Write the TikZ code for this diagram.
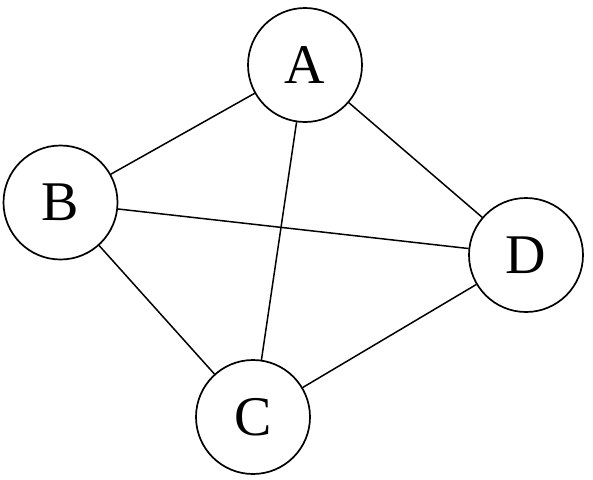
\documentclass[tikz,border=0pt]{standalone}
\usepackage{fontspec}
\setmainfont{Liberation Serif}
\begin{document}
\begin{tikzpicture}[x=1pt,y=-1pt,
  vert/.style={circle,draw,line width=1.7pt,minimum size=114pt,inner sep=0pt,font=\fontsize{56}{56}\selectfont},
  edge/.style={line width=1.5pt}]
\useasboundingbox (0,0) rectangle (593,479);
\node[vert] (A) at (305,65) {A};
\node[vert] (B) at (60.5,202.5) {B};
\node[vert] (D) at (526,255) {D};
\node[vert] (C) at (253,417) {C};
\draw[edge] (A) -- (B);
\draw[edge] (A) -- (C);
\draw[edge] (A) -- (D);
\draw[edge] (B) -- (D);
\draw[edge] (B) -- (C);
\draw[edge] (C) -- (D);
\end{tikzpicture}
\end{document}
